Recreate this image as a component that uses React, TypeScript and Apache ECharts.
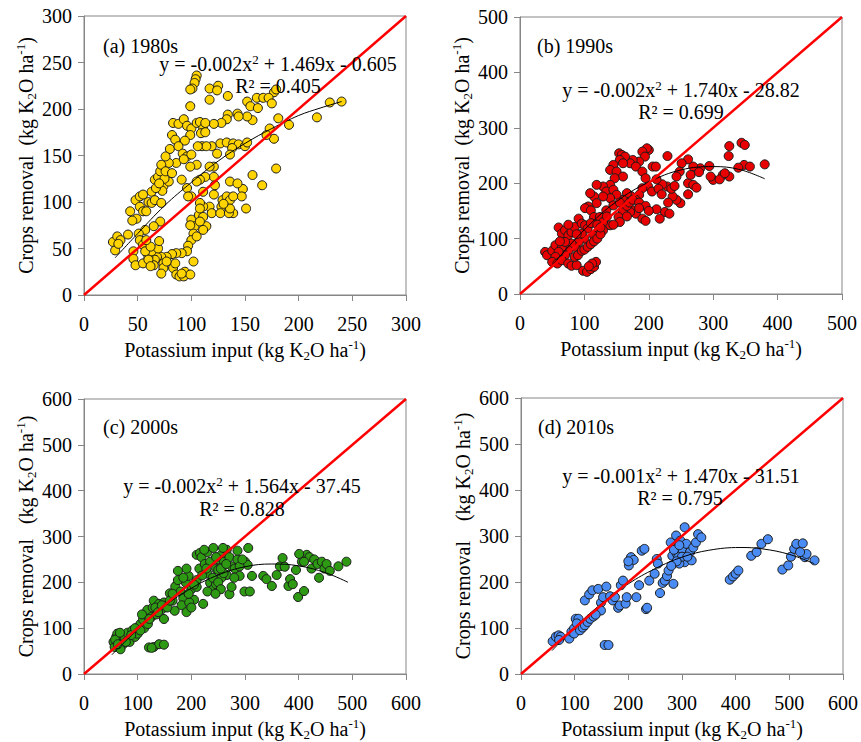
import React, { useEffect, useRef } from 'react';
import * as echarts from 'echarts';

const FONT = 'Liberation Serif, Times New Roman, serif';

// ---------- data ----------
const axisMax = [300, 500, 600, 600];
const xInterval = [50, 100, 100, 100];
const yInterval = [50, 100, 100, 100];

const panelLabels = ['(a) 1980s', '(b) 1990s', '(c) 2000s', '(d) 2010s'];
const eqA = ['-0.002x', '-0.002x', '-0.002x', '-0.001x'];
const eqB = [' + 1.469x - 0.605', ' + 1.740x - 28.82', ' + 1.564x - 37.45', ' + 1.470x - 31.51'];
const r2Texts = ['R² = 0.405', 'R² = 0.699', 'R² = 0.828', 'R² = 0.795'];
const colors = ['#FFD400', '#E80000', '#2E9A14', '#4A8CF4'];

const pointsA = [
  [105,236],[104,232],[103,228],[101,222],[99,221],[99,203],
  [117,222],[125,225],[124,220],[117,210],[134,214],
  [177,218],[179,221],
  [152,208],[155,203],[161,212],[167,212],[172,212],[162,201],[175,206],[157,188],[152,192],
  [229,207],[240,208],[217,191],[191,183],[181,190],[177,168],[173,179],[170,172],[179,136],[166,118],[157,129],[151,93],[148,114],[147,106],
  [127,163],[133,164],[139,163],[144,162],[150,160],[152,164],[138,158],[136,151],[143,195],[144,192],[134,194],[133,189],[128,185],[121,184],[119,160],[124,152],[121,138],[117,138],[121,127],[113,127],[111,111],[122,118],[121,108],[117,95],[111,95],[108,99],[119,88],[128,95],[127,88],[129,102],[133,106],[136,102],[139,106],[136,122],[143,120],[139,88],[135,88],[136,93],[130,98],
  [100,81],[107,86],[103,74],[102,66],[100,59],[97,53],[96,47],[91,45],[86,45],[82,44],[77,41],[72,41],[68,41],[66,38],[65,32],[74,34],[74,29],[72,23],[83,29],[86,22],[89,20],[93,20],[94,25],[99,22],[91,23],[102,36],[85,34],[77,36],[60,41],[63,47],[69,50],[111,84],[108,93],[114,74],[108,79],[111,70],[105,63],[99,75],[70,58],
  [27,57],[31,63],[29,48],[34,59],[32,55],[41,65],[43,90],[48,102],[52,106],[55,108],[52,95],[49,82],[45,80],[55,90],[60,100],[63,111],[66,124],[69,127],[71,133],[74,117],[79,122],[73,112],[63,99],[58,90],[66,102],[72,99],[71,79],[65,74],[57,70],[51,66],[52,59],[55,54],[46,47],[46,39],[48,32],[55,34],[60,38],[62,31],[57,47],[62,52],[58,59],[67,115],[75,125],[70,120],
  [83,185],[88,184],[93,189],[96,182],[100,179],[105,185],[108,186],[111,179],[113,185],[99,172],[82,172],[85,167],[94,166],[80,157],[88,160],[92,152],[96,149],[100,151],[105,140],[86,142],[93,146],[99,138],[79,142],[76,149],[72,140],[76,133],[82,131],[91,124],[96,115],[100,106],[97,106],[110,160],[114,160],[106,160],[109,174],[113,175],[108,124],[105,122]
];

const pointsB = [
  [344,273],[349,269],[325,267],[324,249],[348,233],[357,230],[380,234],[339,228],[325,212],[315,215],[300,206],[296,212],[294,231],[280,227],[269,230],[261,243],[251,236],[248,221],[243,212],[261,200],[269,197],[274,192],[261,180],[249,164],[243,170],[237,176],[230,165],[225,148],[232,145],[217,136],[212,153],[229,249],[229,194],[221,198],[212,207],[206,230],[211,230],[200,260],[197,263],[190,257],[194,248],[185,239],[175,242],[171,236],[180,230],[190,221],[195,209],[199,194],[190,191],[185,179],[180,170],[172,177],[166,182],[160,170],[176,151],[180,145],[190,136],[195,132],[171,148],[160,148],[153,139],[140,124],[129,115],[119,109],[115,105],
  [154,254],[158,251],[163,248],[155,242],[160,236],[145,233],[140,224],[150,221],[160,212],[147,209],[140,197],[129,194],[134,185],[145,188],[150,179],[140,173],[129,176],[119,197],[115,176],[119,164],[109,182],[106,158],[101,155],[110,151],[115,139],[124,139],[129,130],[134,151],
  [39,76],[42,70],[50,78],[55,88],[60,120],[65,109],[70,115],[75,106],[80,112],[85,121],[91,136],[96,127],[101,124],[105,118],[110,128],[100,100],[91,94],[85,85],[80,91],[75,79],[70,70],[65,85],[60,76],[55,67],[50,58],[58,55],[65,61],[75,55],[80,51],[88,52],[85,67],[90,70],[96,78],[100,80],[105,85],[110,90],[115,95],[120,100],[125,108],[98,42],[104,40],[110,45],[115,49],[118,58],[112,55],[107,50],[70,94],[62,95],[75,125],[96,109],[88,108],[120,125],[125,120],[135,140],[145,160],[155,165],[166,159],[170,165],[175,170],[185,165],[195,159],[166,140],[155,130],[145,125],[205,185],[215,190],[220,180],
  [310,207],[318,218],[265,215],[278,220],[235,190],[240,195],[185,155],[200,150]
];

const pointsC = [
  [55,70],[60,81],[62,88],[57,59],[65,76],[70,84],[73,65],[76,78],[68,54],[81,90],[85,70],[90,95],[95,81],[100,100],[105,109],[100,88],[110,119],[112,100],[115,130],[118,140],[119,109],[126,125],[128,145],[130,160],[135,130],[140,153],[144,140],[149,156],[149,120],[121,58],[130,59],[140,65],[149,64],[126,57],
  [160,176],[165,160],[170,191],[175,205],[180,180],[185,165],[190,199],[195,214],[200,185],[205,162],[210,205],[215,230],[210,260],[216,264],[219,255],[225,240],[230,219],[235,199],[241,185],[246,230],[250,250],[256,260],[261,245],[266,271],[271,255],[275,235],[266,216],[256,210],[246,196],[271,174],[281,230],[286,250],[290,214],[300,245],[306,275],[305,238],[299,180],[309,180],[313,214],[191,230],[185,210],[175,225],[182,150],[191,135],[196,156],[200,145],[169,138],[222,153],[230,266],[241,275],[250,227],[224,271],[259,275],[235,245],[246,255],[210,190],[230,180],[286,269],[260,220],[275,190],[290,235],
  [334,214],[340,207],[350,192],[359,216],[365,235],[370,253],[374,234],[381,192],[384,207],[389,196],[395,227],[399,168],[406,245],[410,181],[415,260],[420,255],[424,230],[429,250],[435,240],[438,210],[443,245],[448,230],[452,240],[458,225],[474,235],[489,245],[401,262],[410,245],
  [195,175],[205,195],[220,215],[228,230],[240,210],[250,200],[255,230],[265,240],[280,210],[295,250],[255,185],[245,175],
  [58,75],[63,65],[67,90],[78,70],[88,85],[95,100],[105,95],[108,130],[122,120],[133,145],[138,135],[145,150],[155,145],[160,160],[165,175]
];

const pointsD = [
  [59,71],[65,81],[70,84],[74,81],[71,74],[90,77],[94,92],[99,99],[102,120],[107,120],[104,110],[99,88],[110,95],[115,101],[119,106],[124,113],[129,120],[135,125],[119,160],[127,173],[133,182],[144,185],[149,155],[153,167],[149,138],[139,129],[156,63],[163,63],[159,190],[166,169],[171,160],[175,167],[181,144],[184,149],[186,193],[190,203],[195,153],[197,167],[201,236],[205,254],[210,248],[200,245],[215,167],[220,193],[225,268],[230,272],[233,141],[235,144],[239,203],[249,218],[253,250],[255,240],[259,176],[264,198],[268,203],[272,213],[275,225],[279,286],[282,257],[284,196],[290,262],[289,301],[293,254],[297,290],[300,272],[305,319],[305,243],[308,283],[315,265],[318,247],[321,275],[326,286],[330,304],[336,297],[295,240],[300,255],
  [389,205],[395,212],[400,218],[405,225],[429,257],[439,265],[448,283],[460,293],[487,227],[498,236],[503,255],[509,272],[513,283],[525,284],[529,254],[532,261],[547,247],[520,265],
  [285,270],[290,245],[310,255],[295,280],[280,235]
];

// fitted curves
const curveA = [[29,40],[50,66],[75,96],[100,121],[125,144],[150,163],[175,179],[200,193],[220,201],[240,208]];
const curveB = [[45,45],[100,116],[150,167],[200,202],[250,224],[300,230],[340,225],[380,208]];
const curveC = [[52,42],[100,97],[150,148],[200,187],[250,216],[300,234],[350,240],[400,236],[450,221],[492,200]];
const curveD = [[58,51],[100,101],[150,153],[200,196],[250,229],[300,254],[350,269],[408,275],[450,272],[500,260],[546,240]];

const allPoints = [pointsA, pointsB, pointsC, pointsD];
const allCurves = [curveA, curveB, curveC, curveD];

// ---------- layout ----------
const grids = [
  { left: 84, top: 16, width: 322, height: 279 },
  { left: 520, top: 17, width: 322, height: 277 },
  { left: 84, top: 399, width: 322, height: 278 },
  { left: 521, top: 398, width: 322, height: 277 },
];
const labelPos = [[103, 46], [537, 46], [103, 427], [538, 427]];
const eqPos = [[278, 64], [681, 90], [242, 486], [681, 476]];
const r2Pos = [[278, 86], [681, 112], [242, 509], [680, 498]];
const yNames = [
  'Crops removal  (kg K',
  'Crops removal  (kg K',
  'Crops removal   (kg K',
  'Crops removal    (kg K',
];

const GRAY = '#868686';
const rich = {
  n: { fontSize: 20, fontFamily: FONT, color: '#000' },
  sub: { fontSize: 13, fontFamily: FONT, color: '#000', padding: [12, 0, 0, 0] },
  sup: { fontSize: 13, fontFamily: FONT, color: '#000', padding: [0, 0, 10, 0] },
};
const gRich = {
  n: { fontSize: 20, fontFamily: FONT, fill: '#000' },
  sup: { fontSize: 13, fontFamily: FONT, fill: '#000', padding: [0, 0, 10, 0] },
};

function buildOption() {
  const xAxis: any[] = [];
  const yAxis: any[] = [];
  const series: any[] = [];
  const graphic: any[] = [];
  for (let i = 0; i < 4; i++) {
    const common = {
      gridIndex: i,
      type: 'value',
      min: 0,
      max: axisMax[i],
      axisLine: { show: true, onZero: false, lineStyle: { color: GRAY, width: 1 } },
      axisTick: { show: true, inside: false, length: 6, lineStyle: { color: GRAY } },
      splitLine: { show: false },
      nameLocation: 'middle',
      nameTextStyle: { rich, fontFamily: FONT, fontSize: 20, color: '#000' },
    };
    xAxis.push({
      ...common,
      interval: xInterval[i],
      axisLabel: { fontSize: 20, fontFamily: FONT, color: '#000', margin: 19 },
      name: '{n|Potassium input (kg K}{sub|2}{n|O ha}{sup|-1}{n|)}',
      nameGap: 42,
    });
    yAxis.push({
      ...common,
      interval: yInterval[i],
      axisLabel: { fontSize: 20, fontFamily: FONT, color: '#000', margin: 12 },
      name: '{n|' + yNames[i] + '}{sub|2}{n|O ha}{sup|-1}{n|)}',
      nameGap: 44,
    });
    series.push({
      type: 'scatter',
      xAxisIndex: i,
      yAxisIndex: i,
      data: allPoints[i],
      symbol: 'circle',
      symbolSize: 9,
      itemStyle: { color: colors[i], borderColor: '#1a1a1a', borderWidth: 1, opacity: 1 },
      z: 2,
      silent: true,
    });
    series.push({
      type: 'line',
      xAxisIndex: i,
      yAxisIndex: i,
      data: allCurves[i],
      smooth: 0.4,
      showSymbol: false,
      lineStyle: { color: '#000', width: 1 },
      z: 3,
      silent: true,
    });
    series.push({
      type: 'line',
      xAxisIndex: i,
      yAxisIndex: i,
      data: [[0, 0], [axisMax[i], axisMax[i]]],
      showSymbol: false,
      lineStyle: { color: '#FF0000', width: 2.5 },
      z: 4,
      silent: true,
    });
    graphic.push({
      type: 'text',
      x: labelPos[i][0],
      y: labelPos[i][1],
      z: 10,
      style: { text: panelLabels[i], fontSize: 20, fontFamily: FONT, fill: '#000', align: 'left', verticalAlign: 'middle' },
    });
    graphic.push({
      type: 'text',
      x: eqPos[i][0],
      y: eqPos[i][1],
      z: 10,
      style: {
        text: '{n|y = ' + eqA[i] + '}{sup|2}{n|' + eqB[i] + '}',
        rich: gRich,
        fontSize: 20,
        fontFamily: FONT,
        fill: '#000',
        align: 'center',
        verticalAlign: 'middle',
      },
    });
    graphic.push({
      type: 'text',
      x: r2Pos[i][0],
      y: r2Pos[i][1],
      z: 10,
      style: { text: r2Texts[i], fontSize: 20, fontFamily: FONT, fill: '#000', align: 'center', verticalAlign: 'middle' },
    });
  }
  return {
    animation: false,
    backgroundColor: '#fff',
    textStyle: { fontFamily: FONT },
    grid: grids.map((g) => ({ ...g, show: true, borderColor: GRAY, borderWidth: 1, backgroundColor: 'transparent' })),
    xAxis,
    yAxis,
    series,
    graphic,
  };
}

export default function App() {
  const ref = useRef<HTMLDivElement>(null);
  useEffect(() => {
    const chart = echarts.init(ref.current!, null, { renderer: 'svg' });
    chart.setOption(buildOption() as any);
    return () => chart.dispose();
  }, []);
  return (
    <div
      ref={ref}
      style={{ position: 'absolute', left: 0, top: 0, width: 861, height: 742, background: '#fff' }}
    />
  );
}
